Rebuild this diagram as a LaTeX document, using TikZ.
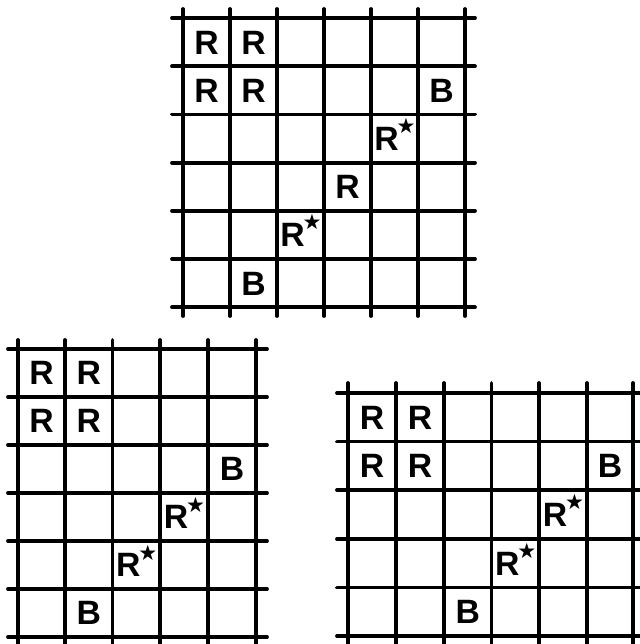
\documentclass[tikz,border=0pt]{standalone}
\usepackage{fontspec}
\usepackage{tikz}
\newfontfamily\piecefont{Liberation Sans}
\newfontfamily\starfont{DejaVu Sans}
\newcommand{\Rstar}{R\kern-1.5pt\raisebox{0.95ex}{\starfont\fontsize{15pt}{15pt}\selectfont ★}}
\tikzset{
  gridline/.style={line width=0.95mm, line cap=round},
  piece/.style={inner sep=0pt, text height=17pt, text depth=0pt,
    font={\piecefont\bfseries\fontsize{24pt}{24pt}\selectfont}}
}

\begin{document}
\begin{tikzpicture}[x=0.25mm,y=-0.25mm]
\useasboundingbox (0,0) rectangle (640,644);
% top board, 6 x 6
\draw[gridline] (183,9) -- (183,316);
\draw[gridline] (230,9) -- (230,316);
\draw[gridline] (277,9) -- (277,316);
\draw[gridline] (324,9) -- (324,316);
\draw[gridline] (371,9) -- (371,316);
\draw[gridline] (418,9) -- (418,316);
\draw[gridline] (465,9) -- (465,316);
\draw[gridline] (172,18) -- (475,18);
\draw[gridline] (172,66.2) -- (475,66.2);
\draw[gridline] (172,114.4) -- (475,114.4);
\draw[gridline] (172,162.6) -- (475,162.6);
\draw[gridline] (172,210.8) -- (475,210.8);
\draw[gridline] (172,259) -- (475,259);
\draw[gridline] (172,307.2) -- (475,307.2);
\node[piece] (t11) at (206.5,42.1) {R};
\node[piece] (t12) at (253.5,42.1) {R};
\node[piece] (t21) at (206.5,90.3) {R};
\node[piece] (t22) at (253.5,90.3) {R};
\node[piece] (t26) at (441.5,90.3) {B};
\node[piece] (t35) at (395,138.5) {\Rstar};
\node[piece] (t44) at (347.5,186.7) {R};
\node[piece] (t53) at (301,234.9) {\Rstar};
\node[piece] (t62) at (253.5,283.1) {B};
% bottom left board, 5 columns
\draw[gridline] (18,340) -- (18,648);
\draw[gridline] (65,340) -- (65,648);
\draw[gridline] (112.5,340) -- (112.5,648);
\draw[gridline] (160,340) -- (160,648);
\draw[gridline] (208,340) -- (208,648);
\draw[gridline] (256,340) -- (256,648);
\draw[gridline] (8,349) -- (267,349);
\draw[gridline] (8,397) -- (267,397);
\draw[gridline] (8,445) -- (267,445);
\draw[gridline] (8,493) -- (267,493);
\draw[gridline] (8,541) -- (267,541);
\draw[gridline] (8,589) -- (267,589);
\draw[gridline] (8,637) -- (267,637);
\node[piece] (l11) at (41.5,373) {R};
\node[piece] (l12) at (88.75,373) {R};
\node[piece] (l21) at (41.5,421) {R};
\node[piece] (l22) at (88.75,421) {R};
\node[piece] (l35) at (232,469) {B};
\node[piece] (l44) at (184.5,517) {\Rstar};
\node[piece] (l53) at (136.75,565) {\Rstar};
\node[piece] (l62) at (88.75,613) {B};
% bottom right board, 5 rows
\draw[gridline] (348,383) -- (348,648);
\draw[gridline] (396,383) -- (396,648);
\draw[gridline] (444,383) -- (444,648);
\draw[gridline] (491.5,383) -- (491.5,648);
\draw[gridline] (539,383) -- (539,648);
\draw[gridline] (587,383) -- (587,648);
\draw[gridline] (633,383) -- (633,648);
\draw[gridline] (337,393) -- (644,393);
\draw[gridline] (337,441.5) -- (644,441.5);
\draw[gridline] (337,490) -- (644,490);
\draw[gridline] (337,539) -- (644,539);
\draw[gridline] (337,587.5) -- (644,587.5);
\draw[gridline] (337,636) -- (644,636);
\node[piece] (r11) at (372,417.25) {R};
\node[piece] (r12) at (420,417.25) {R};
\node[piece] (r21) at (372,465.75) {R};
\node[piece] (r22) at (420,465.75) {R};
\node[piece] (r26) at (610,465.75) {B};
\node[piece] (r35) at (563.5,514.5) {\Rstar};
\node[piece] (r44) at (515.75,563.25) {\Rstar};
\node[piece] (r53) at (467.75,611.75) {B};
\end{tikzpicture}
\end{document}
